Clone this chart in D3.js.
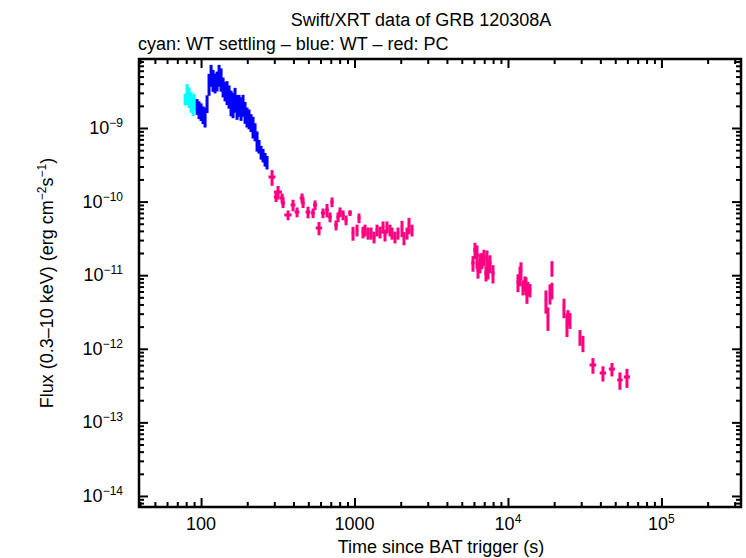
<!DOCTYPE html>
<html>
<head>
<meta charset="utf-8">
<script src="https://cdn.jsdelivr.net/npm/d3@7"></script>
<style>
  body { margin: 0; background: #fff; }
  text { font-family: 'Liberation Sans', Arial, sans-serif; fill: #000; }
</style>
</head>
<body>
<svg id="viz" width="746" height="558"></svg>
<script>
// WT settling (cyan)
var cyanT = [78.7, 81.1, 83.6, 86.1, 88.7, 90.0];
var cyanF = [2.48e-9, 2.99e-9, 2.72e-9, 2.33e-9, 2.05e-9, 2.33e-9];
var cyanFErr = [0.45e-9, 0.95e-9, 0.85e-9, 0.72e-9, 0.6e-9, 0.6e-9];

// WT (blue)
var blueT = [94.2, 97.0, 100, 103.0, 106.2, 109.4, 112.7, 116.2, 119.7, 123.4, 127.1, 131.0,
  135.0, 139.1, 143.3, 147.7, 152.2, 156.8, 161.6, 166.5, 171.6, 176.8, 182.2, 187.7,
  193.4, 199.3, 205.4, 211.7, 218.1, 224.8, 231.6, 238.7, 246.0, 253.5, 261.2, 269.1];
var blueF = [1.99e-9, 1.81e-9, 1.70e-9, 1.55e-9, 1.455e-9, 2.19e-9, 4.09e-9, 5.42e-9, 4.63e-9,
  4.22e-9, 4.49e-9, 5.42e-9, 4.78e-9, 3.72e-9, 3.28e-9, 3.18e-9, 2.81e-9, 2.33e-9, 2.19e-9,
  2.56e-9, 2.05e-9, 2.12e-9, 1.93e-9, 2.12e-9, 1.70e-9, 1.455e-9, 1.37e-9, 1.21e-9, 1.07e-9,
  9.1e-10, 6.87e-10, 5.69e-10, 4.72e-10, 4.30e-10, 3.79e-10, 3.45e-10];
var blueFErr = [0.48e-9, 0.49e-9, 0.46e-9, 0.42e-9, 0.44e-9, 0.59e-9, 1.35e-9, 1.79e-9, 1.53e-9,
  1.27e-9, 1.35e-9, 1.79e-9, 1.67e-9, 1.12e-9, 0.98e-9, 1.14e-9, 0.98e-9, 0.89e-9, 0.83e-9,
  0.95e-9, 0.76e-9, 0.70e-9, 0.68e-9, 0.70e-9, 0.56e-9, 0.44e-9, 0.41e-9, 0.33e-9, 0.35e-9,
  0.25e-9, 0.21e-9, 0.12e-9, 0.10e-9, 0.09e-9, 0.08e-9, 0.072e-9];

// PC (red)
var redT = [290.1, 317.4, 308.1, 337.1, 342.2, 368.8, 397.5, 422.1, 455.0, 461.9, 497.8, 536.6,
  552.9, 587.1, 623.4, 662.0, 692.4, 713.6, 757.9, 780.9, 804.7, 841.8, 880.5, 934.8, 977.7,
  1038, 1070, 1136, 1171, 1224, 1281, 1340, 1402, 1466, 1534, 1580, 1628, 1703, 1755, 1835,
  1920, 2039, 2101, 2198, 2265, 2369,
  5916, 6095, 6281, 6377, 6571, 6769, 6975, 7188, 7297, 7407, 7632, 7985,
  11620, 11975, 12155, 12524, 12903, 13100, 13297, 13498, 13908,
  19345, 17680, 18219, 18773, 19345,
  23170, 24235, 24600, 25350, 29450, 30800,
  35790, 41580, 47590, 53650, 59610];
var redTErr = [15, 19, 10, 12, 10, 20, 14, 15, 16, 12, 18, 15, 16, 28, 20, 18, 18, 18, 20, 18,
  20, 20, 20, 25, 20, 20, 22, 25, 25, 25, 28, 30, 30, 30, 30, 30, 30, 35, 35, 35, 35, 35, 35,
  40, 40, 45,
  150, 150, 150, 150, 160, 160, 160, 170, 170, 170, 180, 190,
  250, 250, 250, 250, 250, 250, 250, 250, 300,
  250, 300, 300, 300, 300,
  400, 400, 400, 400, 500, 500,
  1800, 2000, 2200, 2200, 2800];
var redF = [2.159e-10, 1.35e-10, 1.155e-10, 1.119e-10, 9.57e-11, 6.58e-11, 8.99e-11, 7.22e-11,
  1.119e-10, 9.57e-11, 7.22e-11, 7.00e-11, 8.99e-11, 4.38e-11, 7.00e-11, 7.69e-11, 6.18e-11,
  9.88e-11, 4.81e-11, 6.18e-11, 7.22e-11, 6.58e-11, 5.62e-11, 7.00e-11, 3.74e-11, 4.11e-11,
  5.99e-11, 3.86e-11, 4.11e-11, 3.74e-11, 3.74e-11, 3.30e-11, 4.11e-11, 3.86e-11, 4.52e-11,
  3.52e-11, 4.52e-11, 4.11e-11, 3.74e-11, 3.30e-11, 3.74e-11, 4.38e-11, 3.20e-11, 3.74e-11,
  4.81e-11, 4.11e-11,
  1.465e-11, 2.20e-11, 1.882e-11, 1.177e-11, 1.511e-11, 1.609e-11, 1.768e-11, 1.071e-11,
  1.713e-11, 1.252e-11, 1.465e-11, 1.071e-11,
  8.08e-12, 1.006e-11, 1.177e-11, 6.91e-12, 7.83e-12, 7.36e-12, 5.38e-12, 6.70e-12, 6.29e-12,
  1.252e-11, 4.60e-12, 2.70e-12, 5.73e-12, 6.29e-12,
  3.70e-12, 2.24e-12, 2.70e-12, 2.46e-12, 1.446e-12, 1.199e-12,
  6.02e-13, 4.69e-13, 5.31e-13, 3.77e-13, 4.14e-13];
var redFErr = [0.52e-10, 0.28e-10, 0.17e-10, 0.17e-10, 1.4e-11, 1.0e-11, 1.6e-11, 1.1e-11,
  1.7e-11, 1.4e-11, 1.3e-11, 1.05e-11, 1.35e-11, 0.9e-11, 1.05e-11, 1.6e-11, 0.95e-11,
  1.5e-11, 0.75e-11, 0.95e-11, 1.1e-11, 1.0e-11, 0.85e-11, 0.65e-11, 0.8e-11, 0.75e-11,
  0.9e-11, 0.7e-11, 0.75e-11, 0.7e-11, 0.7e-11, 0.6e-11, 0.75e-11, 0.7e-11, 0.85e-11,
  0.65e-11, 0.85e-11, 0.75e-11, 0.7e-11, 0.6e-11, 0.7e-11, 1.1e-11, 0.65e-11, 0.7e-11,
  1.2e-11, 0.75e-11,
  0.35e-11, 0.55e-11, 0.65e-11, 0.28e-11, 0.45e-11, 0.4e-11, 0.45e-11, 0.25e-11,
  0.45e-11, 0.38e-11, 0.4e-11, 0.3e-11,
  2.2e-12, 3.0e-12, 3.2e-12, 1.6e-12, 1.8e-12, 2.0e-12, 1.3e-12, 1.4e-12, 1.3e-12,
  3e-12, 1.6e-12, 0.95e-12, 1.75e-12, 1.6e-12,
  1.1e-12, 0.8e-12, 0.65e-12, 0.6e-12, 0.35e-12, 0.3e-12,
  1.45e-13, 1.1e-13, 1.1e-13, 1.0e-13, 1.2e-13];

// tick labels
var xMajor = [100, 1000, 1e4, 1e5];
var xMajorBase = ['100', '1000', '10', '10'];
var xMajorSup = ['', '', '4', '5'];
var yMajor = [1e-9, 1e-10, 1e-11, 1e-12, 1e-13, 1e-14];
var yMajorSup = ['\u22129', '\u221210', '\u221211', '\u221212', '\u221213', '\u221214'];

// plot box (window.top is reserved, so no plain "top")
var boxLeft = 139, boxRight = 741, boxTop = 59, boxBottom = 507;

var svg = d3.select('#viz');

var x = d3.scaleLog().domain([39.4, 3.3e5]).range([boxLeft, boxRight]);
var y = d3.scaleLog().domain([7.08e-15, 8.66e-9]).range([boxBottom, boxTop]);

// minor ticks are all 1..9 multiples that are not decades
var xMinor = x.ticks().filter((v) => Math.abs(Math.log10(v) - Math.round(Math.log10(v))) > 1e-6);
var yMinor = y.ticks().filter((v) => Math.abs(Math.log10(v) - Math.round(Math.log10(v))) > 1e-6);

function drawTicks(axisFn, scale, values, size, transform) {
  var g = svg
    .append('g')
    .attr('transform', transform)
    .call(axisFn(scale).tickValues(values).tickSize(-size).tickFormat(''));
  g.select('.domain').remove();
  g.selectAll('line').attr('stroke', '#000').attr('stroke-width', 2);
}

drawTicks(d3.axisBottom, x, xMajor, 9, 'translate(0,' + boxBottom + ')');
drawTicks(d3.axisBottom, x, xMinor, 5, 'translate(0,' + boxBottom + ')');
drawTicks(d3.axisTop, x, xMajor, 9, 'translate(0,' + boxTop + ')');
drawTicks(d3.axisTop, x, xMinor, 5, 'translate(0,' + boxTop + ')');
drawTicks(d3.axisLeft, y, yMajor, 9, 'translate(' + boxLeft + ',0)');
drawTicks(d3.axisLeft, y, yMinor, 5, 'translate(' + boxLeft + ',0)');
drawTicks(d3.axisRight, y, yMajor, 9, 'translate(' + boxRight + ',0)');
drawTicks(d3.axisRight, y, yMinor, 5, 'translate(' + boxRight + ',0)');

// data: error bars only, drawn as crosses
function drawSeries(ts, tErr, fs, fErr, color) {
  var pts = ts.map((t, i) => ({
    t: t,
    te: tErr ? tErr[i] : t * 0.012,
    f: fs[i],
    fe: fErr[i],
  }));
  var g = svg.append('g');
  g.selectAll('line.v')
    .data(pts)
    .join('line')
    .attr('class', 'v')
    .attr('x1', (d) => x(d.t))
    .attr('x2', (d) => x(d.t))
    .attr('y1', (d) => y(d.f - d.fe))
    .attr('y2', (d) => y(d.f + d.fe))
    .attr('stroke', color)
    .attr('stroke-width', 3);
  g.selectAll('line.h')
    .data(pts)
    .join('line')
    .attr('class', 'h')
    .attr('x1', (d) => x(d.t - d.te))
    .attr('x2', (d) => x(d.t + d.te))
    .attr('y1', (d) => y(d.f))
    .attr('y2', (d) => y(d.f))
    .attr('stroke', color)
    .attr('stroke-width', 3);
}

drawSeries(cyanT, null, cyanF, cyanFErr, '#00ffff');
drawSeries(blueT, null, blueF, blueFErr, '#0000ff');
drawSeries(redT, redTErr, redF, redFErr, '#ff0080');

// frame
svg
  .append('rect')
  .attr('x', boxLeft)
  .attr('y', boxTop)
  .attr('width', boxRight - boxLeft)
  .attr('height', boxBottom - boxTop)
  .attr('fill', 'none')
  .attr('stroke', '#000')
  .attr('stroke-width', 2.5);

// x tick labels
var xl = svg
  .append('g')
  .selectAll('text')
  .data(xMajor)
  .join('text')
  .attr('x', (d) => x(d))
  .attr('y', boxBottom + 23)
  .attr('text-anchor', 'middle')
  .style('font-size', '18px');
xl.append('tspan').text((d, i) => xMajorBase[i]);
xl.append('tspan')
  .attr('dy', -7)
  .style('font-size', '12px')
  .text((d, i) => xMajorSup[i]);

// y tick labels
var yl = svg
  .append('g')
  .selectAll('text')
  .data(yMajor)
  .join('text')
  .attr('x', boxLeft - 16)
  .attr('y', (d) => y(d) + 6)
  .attr('text-anchor', 'end')
  .style('font-size', '18px');
yl.append('tspan').text('10');
yl.append('tspan')
  .attr('dy', -7)
  .style('font-size', '12px')
  .text((d, i) => yMajorSup[i]);

// titles
svg
  .append('text')
  .attr('x', 421)
  .attr('y', 26)
  .attr('text-anchor', 'middle')
  .style('font-size', '18px')
  .text('Swift/XRT data of GRB 120308A');

svg
  .append('text')
  .attr('x', 138)
  .attr('y', 50)
  .style('font-size', '18px')
  .text('cyan: WT settling \u2013 blue: WT \u2013 red: PC');

svg
  .append('text')
  .attr('x', 441)
  .attr('y', 553)
  .attr('text-anchor', 'middle')
  .style('font-size', '18px')
  .text('Time since BAT trigger (s)');

var yt = svg
  .append('text')
  .attr('transform', 'translate(53,' + (boxTop + boxBottom) / 2 + ') rotate(-90)')
  .attr('text-anchor', 'middle')
  .style('font-size', '18px');
yt.append('tspan').text('Flux (0.3\u201310 keV) (erg cm');
yt.append('tspan').attr('dy', -7).style('font-size', '12px').text('\u22122');
yt.append('tspan').attr('dy', 7).text('s');
yt.append('tspan').attr('dy', -7).style('font-size', '12px').text('\u22121');
yt.append('tspan').attr('dy', 7).text(')');
</script>
</body>
</html>
